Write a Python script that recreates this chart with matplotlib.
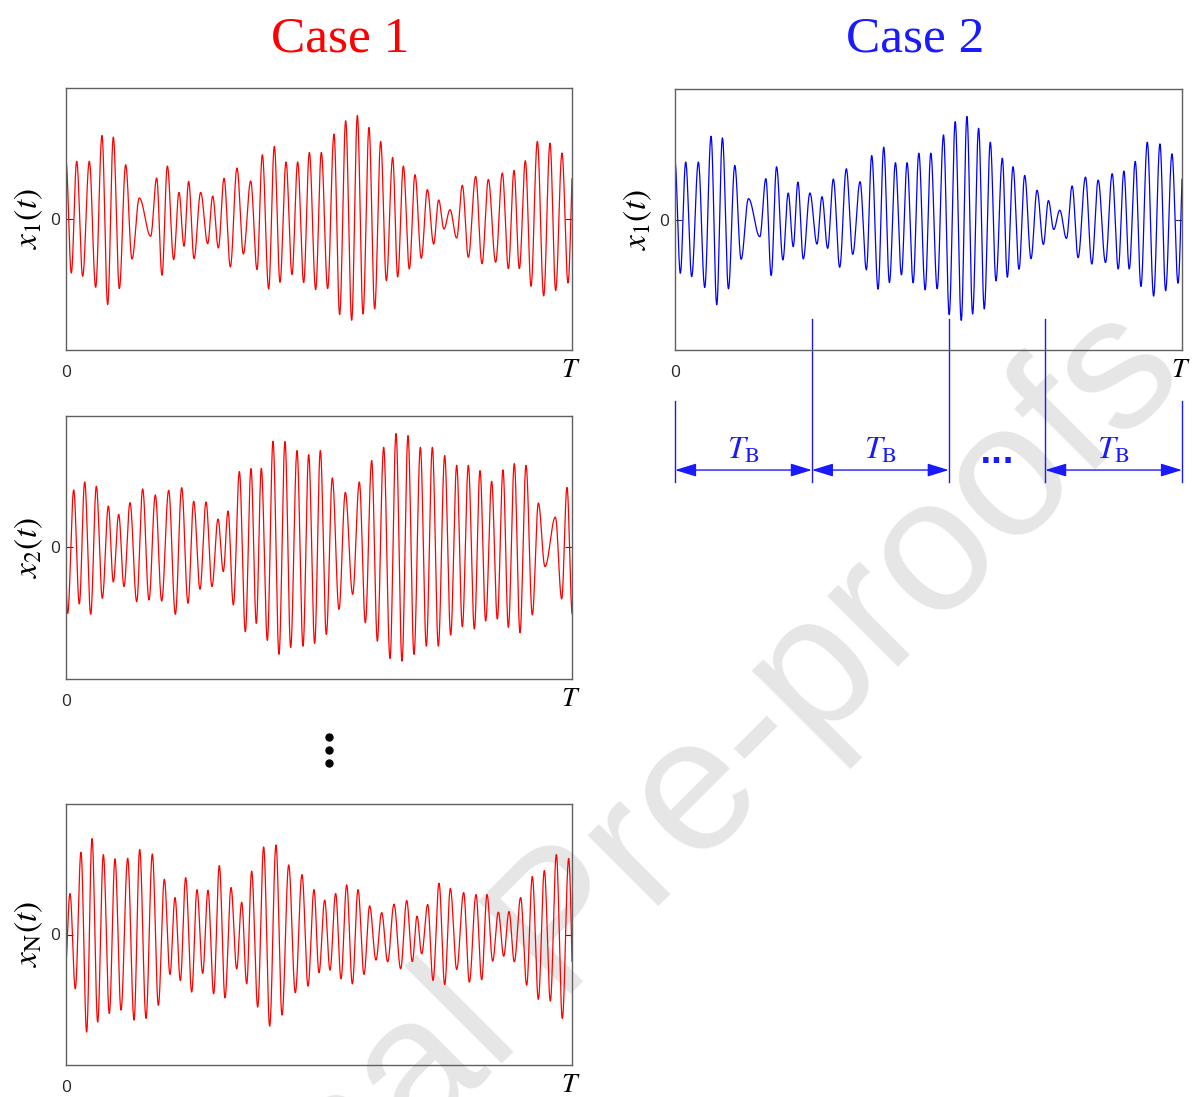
import numpy as np
import matplotlib
matplotlib.use("Agg")
import matplotlib.pyplot as plt
from matplotlib.lines import Line2D
from matplotlib.patches import ArrowStyle

plt.rcParams["mathtext.fontset"] = "stix"

# ---------------------------------------------------------------------------
# Signals: times (fraction of T) and values of successive peaks / troughs,
# plus the value at each end of the record.
# ---------------------------------------------------------------------------
x1_t = [0.0105, 0.0211, 0.0329, 0.0461, 0.0586, 0.0711, 0.0823, 0.0935, 0.1054, 0.1179,
        0.1304, 0.1449, 0.1673, 0.1792, 0.1897, 0.2003, 0.2128, 0.2233, 0.2332, 0.2424,
        0.2530, 0.2661, 0.2800, 0.2899, 0.3011, 0.3123, 0.3248, 0.3379, 0.3505, 0.3650,
        0.3775, 0.3880, 0.4005, 0.4117, 0.4229, 0.4348, 0.4466, 0.4578, 0.4697, 0.4809,
        0.4934, 0.5046, 0.5171, 0.5296, 0.5408, 0.5527, 0.5646, 0.5758, 0.5870, 0.5988,
        0.6100, 0.6219, 0.6331, 0.6456, 0.6555, 0.6667, 0.6785, 0.6897, 0.7022, 0.7141,
        0.7266, 0.7365, 0.7470, 0.7589, 0.7721, 0.7833, 0.7951, 0.8096, 0.8221, 0.8346,
        0.8491, 0.8623, 0.8742, 0.8854, 0.8959, 0.9078, 0.9190, 0.9315, 0.9440, 0.9565,
        0.9677, 0.9802, 0.9921]
x1_v = [-0.412, 0.440, -0.437, 0.440, -0.521, 0.638, -0.653, 0.625, -0.531, 0.414,
        -0.305, 0.160, -0.132, 0.313, -0.429, 0.404, -0.310, 0.203, -0.208, 0.287,
        -0.302, 0.203, -0.188, 0.175, -0.221, 0.310, -0.366, 0.389, -0.267, 0.290,
        -0.386, 0.490, -0.534, 0.554, -0.483, 0.435, -0.424, 0.435, -0.485, 0.508,
        -0.539, 0.508, -0.531, 0.648, -0.729, 0.750, -0.773, 0.790, -0.724, 0.699,
        -0.686, 0.592, -0.470, 0.470, -0.442, 0.404, -0.381, 0.338, -0.300, 0.224,
        -0.191, 0.145, -0.076, 0.071, -0.145, 0.257, -0.292, 0.325, -0.341, 0.302,
        -0.330, 0.351, -0.379, 0.371, -0.379, 0.445, -0.513, 0.592, -0.587, 0.579,
        -0.546, 0.503, -0.488]
x1_start, x1_end = 0.445, 0.307

x2_t = [0.0033, 0.0152, 0.0263, 0.0369, 0.0488, 0.0599, 0.0718, 0.0837, 0.0935, 0.1041,
        0.1146, 0.1265, 0.1397, 0.1515, 0.1640, 0.1765, 0.1891, 0.2029, 0.2161, 0.2286,
        0.2411, 0.2523, 0.2648, 0.2767, 0.2885, 0.3004, 0.3109, 0.3202, 0.3307, 0.3426,
        0.3544, 0.3656, 0.3761, 0.3860, 0.3979, 0.4091, 0.4209, 0.4328, 0.4440, 0.4565,
        0.4684, 0.4796, 0.4914, 0.5026, 0.5145, 0.5263, 0.5395, 0.5520, 0.5665, 0.5797,
        0.5916, 0.6041, 0.6153, 0.6278, 0.6403, 0.6522, 0.6640, 0.6759, 0.6877, 0.7003,
        0.7121, 0.7240, 0.7358, 0.7484, 0.7602, 0.7721, 0.7833, 0.7951, 0.8070, 0.8182,
        0.8294, 0.8412, 0.8524, 0.8636, 0.8742, 0.8860, 0.8972, 0.9091, 0.9216, 0.9335,
        0.9466, 0.9671, 0.9796, 0.9901]
x2_v = [-0.501, 0.437, -0.429, 0.498, -0.508, 0.465, -0.386, 0.315, -0.262, 0.252,
        -0.297, 0.341, -0.412, 0.445, -0.399, 0.399, -0.407, 0.435, -0.508, 0.455,
        -0.424, 0.351, -0.318, 0.346, -0.297, 0.216, -0.183, 0.277, -0.437, 0.577,
        -0.640, 0.600, -0.577, 0.602, -0.706, 0.808, -0.811, 0.806, -0.760, 0.737,
        -0.750, 0.706, -0.729, 0.737, -0.661, 0.529, -0.470, 0.419, -0.356, 0.498,
        -0.572, 0.661, -0.712, 0.762, -0.844, 0.867, -0.864, 0.851, -0.813, 0.762,
        -0.750, 0.762, -0.750, 0.699, -0.666, 0.625, -0.602, 0.625, -0.620, 0.585,
        -0.559, 0.503, -0.544, 0.590, -0.607, 0.638, -0.648, 0.625, -0.513, 0.338,
        -0.145, 0.231, -0.391, 0.457]
x2_start, x2_end = -0.196, -0.501

xN_t = [0.0079, 0.0184, 0.0296, 0.0408, 0.0514, 0.0626, 0.0738, 0.0856, 0.0968, 0.1087,
        0.1219, 0.1344, 0.1456, 0.1581, 0.1706, 0.1825, 0.1943, 0.2055, 0.2154, 0.2260,
        0.2365, 0.2484, 0.2589, 0.2701, 0.2806, 0.2918, 0.3030, 0.3142, 0.3261, 0.3373,
        0.3472, 0.3571, 0.3669, 0.3788, 0.3906, 0.4025, 0.4150, 0.4269, 0.4401, 0.4532,
        0.4664, 0.4783, 0.4901, 0.5000, 0.5112, 0.5217, 0.5329, 0.5435, 0.5547, 0.5659,
        0.5771, 0.5889, 0.6001, 0.6126, 0.6238, 0.6357, 0.6482, 0.6614, 0.6733, 0.6844,
        0.6937, 0.7029, 0.7148, 0.7253, 0.7372, 0.7484, 0.7596, 0.7721, 0.7859, 0.7971,
        0.8103, 0.8215, 0.8320, 0.8432, 0.8544, 0.8650, 0.8755, 0.8860, 0.8985, 0.9104,
        0.9216, 0.9335, 0.9453, 0.9572, 0.9690, 0.9809, 0.9934]
xN_v = [0.314, -0.416, 0.630, -0.747, 0.735, -0.671, 0.612, -0.605, 0.579, -0.579,
        0.584, -0.656, 0.651, -0.643, 0.617, -0.543, 0.423, -0.306, 0.283, -0.352,
        0.436, -0.441, 0.344, -0.298, 0.339, -0.454, 0.528, -0.485, 0.360, -0.263,
        0.247, -0.378, 0.485, -0.556, 0.671, -0.702, 0.686, -0.617, 0.533, -0.446,
        0.459, -0.395, 0.344, -0.293, 0.263, -0.273, 0.314, -0.339, 0.380, -0.378,
        0.344, -0.306, 0.219, -0.196, 0.168, -0.209, 0.232, -0.263, 0.260, -0.207,
        0.140, -0.148, 0.230, -0.352, 0.393, -0.383, 0.352, -0.268, 0.321, -0.365,
        0.306, -0.347, 0.306, -0.204, 0.171, -0.166, 0.176, -0.209, 0.283, -0.388,
        0.444, -0.497, 0.490, -0.510, 0.612, -0.643, 0.582]
xN_start, xN_end = -0.250, -0.204

# Block length used in the second case (fraction of T)
T_B = 0.27

x_start_label = "0"
x_end_label = "$T$"
y_labels = [r"$x_1(t)$", r"$x_2(t)$", r"$x_{\mathrm{N}}(t)$"]
titles = ["Case 1", "Case 2"]


def trace(t_ext, v_ext, v_start, v_end, t):
    """Smooth curve through successive extrema (half-cosine between them)."""
    te = np.asarray(t_ext, float)
    ve = np.asarray(v_ext, float)
    y = np.empty_like(t)
    idx = np.clip(np.searchsorted(te, t, side="right") - 1, 0, len(te) - 2)
    s = np.clip((t - te[idx]) / (te[idx + 1] - te[idx]), 0, 1)
    y[:] = ve[idx] + (ve[idx + 1] - ve[idx]) * (1 - np.cos(np.pi * s)) / 2
    # leading part: cosine ending at the first extremum, passing v_start at t=0
    h = te[1] - te[0]
    a = (ve[0] - v_start) / (1 - np.cos(np.pi * te[0] / h))
    m = ve[0] - a
    lead = t < te[0]
    y[lead] = m + a * np.cos(np.pi * (te[0] - t[lead]) / h)
    # trailing part: cosine leaving the last extremum, passing v_end at t=1
    h = te[-1] - te[-2]
    a = (ve[-1] - v_end) / (1 - np.cos(np.pi * (1 - te[-1]) / h))
    m = ve[-1] - a
    tail = t > te[-1]
    y[tail] = m + a * np.cos(np.pi * (t[tail] - te[-1]) / h)
    return y


t = np.linspace(0, 1, 5000)
sig1 = trace(x1_t, x1_v, x1_start, x1_end, t)
sig2 = trace(x2_t, x2_v, x2_start, x2_end, t)
sigN = trace(xN_t, xN_v, xN_start, xN_end, t)

W, H = 1196, 1097
fig = plt.figure(figsize=(W / 100, H / 100), dpi=100)


def px_axes(left, top, right, bottom):
    return fig.add_axes([left / W, 1 - bottom / H, (right - left) / W, (bottom - top) / H])


def style(ax, ylabel):
    ax.set_facecolor("none")
    ax.set_xlim(0, 1)
    ax.set_ylim(-1, 1)
    ax.set_xticks([0])
    ax.set_xticklabels([x_start_label])
    ax.set_yticks([0])
    ax.set_yticklabels(["0"])
    for sp in ax.spines.values():
        sp.set_color("#606060")
        sp.set_linewidth(1.0)
    ax.tick_params(axis="y", direction="in", length=5, width=0.8, color="#303030",
                   left=True, right=True, labelsize=12.5, labelcolor="#262626", pad=4)
    ax.tick_params(axis="x", length=0, labelsize=12.5, labelcolor="#262626", pad=11)
    for lab in ax.get_xticklabels() + ax.get_yticklabels():
        lab.set_family("Open Sans")
    # end-of-record label on the time axis
    ax.text(0.997, -0.074, x_end_label, transform=ax.get_xaxis_transform(), fontsize=20,
            ha="center", va="center", clip_on=False)
    ax.set_ylabel(ylabel, fontsize=24)
    ax.yaxis.set_label_coords(-0.042, 0.5)


ax1 = px_axes(66, 88, 572, 350)
ax2 = px_axes(66, 416, 572, 679)
axN = px_axes(66, 804, 572, 1065)
axc = px_axes(675, 89, 1182, 350)

for ax, sig, lab in [(ax1, sig1, y_labels[0]), (ax2, sig2, y_labels[1]), (axN, sigN, y_labels[2])]:
    ax.plot(t, sig, color="#ff0000", lw=0.9)
    style(ax, lab)

axc.plot(t, sig1, color="#0000ff", lw=0.9)
style(axc, y_labels[0])

# Column titles
fig.text(340 / W, 1 - 51 / H, titles[0], color="#ff0000", fontsize=37,
         family="Liberation Serif", ha="center", va="baseline")
fig.text(915 / W, 1 - 51 / H, titles[1], color="#1a1aff", fontsize=37,
         family="Liberation Serif", ha="center", va="baseline")

# Vertical ellipsis between the second and the last signal
fig.add_artist(Line2D([329 / W] * 3, [1 - 737 / H, 1 - 750 / H, 1 - 763 / H],
                      transform=fig.transFigure, ls="none", marker="o", ms=5,
                      color="black"))

# Block partition of the record in the second case
tr = axc.get_xaxis_transform()
blue = "#1a1aff"
for xb in [T_B, 2 * T_B, 1 - T_B]:
    axc.plot([xb, xb], [0.117, -0.505], transform=tr, clip_on=False, color=blue, lw=1.0)
for xb in [0, 1]:
    axc.plot([xb, xb], [-0.196, -0.505], transform=tr, clip_on=False, color=blue, lw=1.0)

arrow = ArrowStyle("<|-|>", head_length=0.65, head_width=0.2)
for a, b in [(0, T_B), (T_B, 2 * T_B), (1 - T_B, 1)]:
    axc.annotate("", xy=(b, -0.46), xytext=(a, -0.46), xycoords=tr, textcoords=tr,
                 annotation_clip=False,
                 arrowprops=dict(arrowstyle=arrow, color=blue, lw=1.0,
                                 mutation_scale=20, shrinkA=0, shrinkB=0))
    axc.text((a + b) / 2, -0.385, r"$T_{\mathrm{B}}$", transform=tr, color=blue,
             fontsize=23, ha="center", va="center", clip_on=False)
axc.text((2 * T_B + 1 - T_B) / 2, -0.40, "...", transform=tr, color=blue,
         fontsize=22, fontweight="bold", ha="center", va="center", clip_on=False)

# Watermark
fig.text(600 / W, 1 - 895 / H, "Journal Pre-proofs", rotation=45, rotation_mode="anchor",
         fontsize=137, color="#e6e6e6", family="Liberation Sans",
         ha="center", va="center", zorder=-10)

fig.savefig("out.png", dpi=100)
